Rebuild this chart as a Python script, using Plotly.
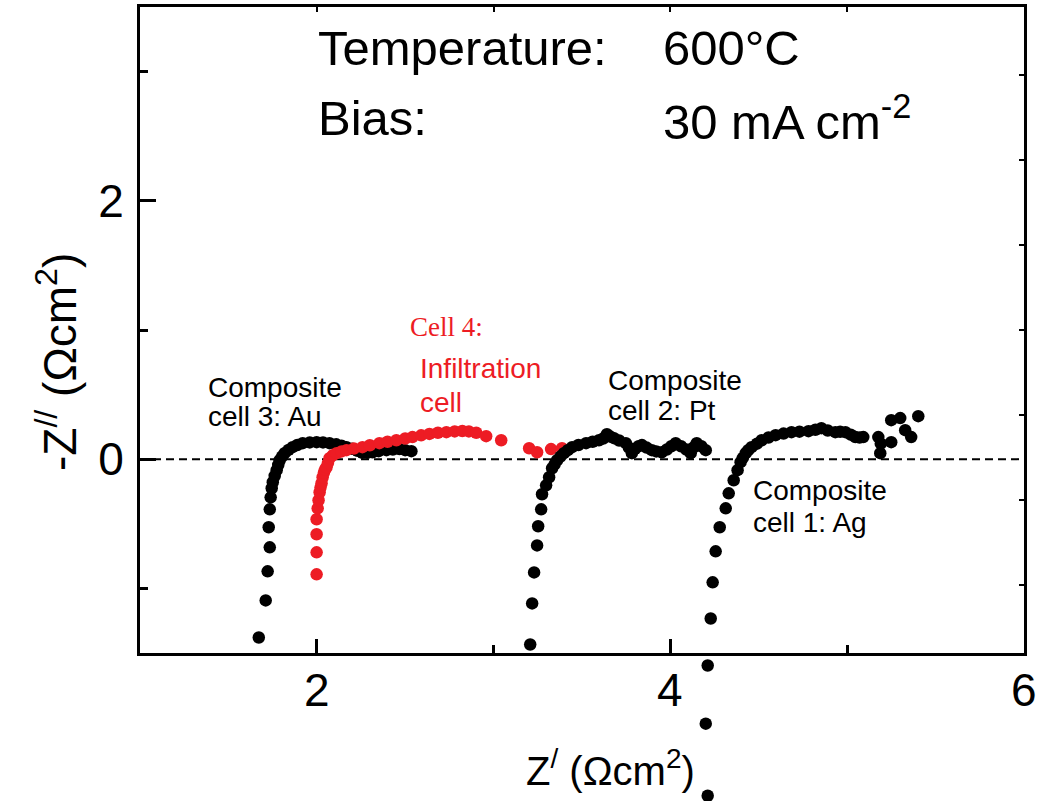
import plotly.graph_objects as go

# Nyquist data, Z' and -Z'' in Ohm cm^2
au_x = [1.672, 1.711, 1.722, 1.734, 1.728, 1.734, 1.739, 1.745, 1.751, 1.762, 1.773, 1.782,
        1.790, 1.803, 1.818, 1.840, 1.863, 1.890, 1.920, 1.960, 1.999, 2.035, 2.072, 2.110,
        2.140, 2.168, 2.200, 2.230, 2.258, 2.285, 2.315, 2.350, 2.394, 2.430, 2.467, 2.500, 2.535]
au_y = [-1.380, -1.093, -0.868, -0.682, -0.527, -0.388, -0.295, -0.225, -0.178, -0.130, -0.085, -0.045,
        -0.008, 0.020, 0.047, 0.072, 0.093, 0.110, 0.124, 0.130, 0.132, 0.130, 0.124, 0.115,
        0.105, 0.093, 0.080, 0.065, 0.050, 0.050, 0.054, 0.062, 0.070, 0.075, 0.078, 0.070, 0.062]

inf_x = [1.999, 1.999, 1.999, 1.999, 2.005, 2.010, 2.016, 2.021, 2.027, 2.033, 2.040, 2.047,
         2.055, 2.063, 2.072, 2.090, 2.112, 2.140, 2.168, 2.210, 2.258, 2.300, 2.354, 2.400,
         2.450, 2.500, 2.541, 2.590, 2.637, 2.685, 2.733, 2.780, 2.823, 2.860, 2.902, 2.958,
         3.043, 3.201, 3.246, 3.325, 3.387]
inf_y = [-0.891, -0.721, -0.581, -0.465, -0.380, -0.318, -0.256, -0.220, -0.186, -0.140, -0.105, -0.080,
         -0.062, -0.030, 0.008, 0.030, 0.047, 0.060, 0.070, 0.082, 0.093, 0.108, 0.124, 0.135,
         0.147, 0.160, 0.171, 0.185, 0.196, 0.205, 0.209, 0.215, 0.218, 0.215, 0.205, 0.178,
         0.147, 0.085, 0.054, 0.078, 0.085]

pt_x = [3.207, 3.218, 3.229, 3.246, 3.252, 3.269, 3.274, 3.297, 3.314, 3.331, 3.345, 3.359,
        3.378, 3.398, 3.420, 3.444, 3.480, 3.523, 3.560, 3.596, 3.620, 3.641, 3.660, 3.681,
        3.710, 3.748, 3.765, 3.782, 3.800, 3.820, 3.839, 3.865, 3.895, 3.920, 3.951, 3.980,
        4.005, 4.030, 4.060, 4.090, 4.115, 4.130, 4.149, 4.175, 4.200]
pt_y = [-1.434, -1.116, -0.876, -0.667, -0.519, -0.388, -0.271, -0.202, -0.140, -0.070, -0.040, -0.008,
        0.020, 0.047, 0.070, 0.093, 0.110, 0.124, 0.135, 0.147, 0.160, 0.194, 0.175, 0.163,
        0.145, 0.124, 0.090, 0.047, 0.080, 0.100, 0.109, 0.090, 0.070, 0.060, 0.054, 0.075,
        0.100, 0.124, 0.100, 0.075, 0.047, 0.090, 0.124, 0.100, 0.070]

ag_x = [4.211, 4.200, 4.211, 4.228, 4.239, 4.256, 4.279, 4.313, 4.330, 4.358, 4.380, 4.397,
        4.410, 4.426, 4.440, 4.459, 4.490, 4.516, 4.555, 4.595, 4.640, 4.685, 4.730, 4.781,
        4.820, 4.854, 4.890, 4.933, 4.960, 4.990, 5.020, 5.046, 5.070, 5.091, 5.176, 5.187,
        5.190, 5.249, 5.249, 5.300, 5.328, 5.362, 5.402]
ag_y = [-2.605, -2.047, -1.597, -1.233, -0.953, -0.713, -0.527, -0.380, -0.264, -0.163, -0.085, -0.023,
        0.010, 0.047, 0.070, 0.093, 0.120, 0.147, 0.168, 0.186, 0.198, 0.209, 0.213, 0.217,
        0.228, 0.240, 0.222, 0.209, 0.212, 0.209, 0.190, 0.171, 0.168, 0.171, 0.171, 0.047,
        0.120, 0.132, 0.302, 0.318, 0.225, 0.171, 0.333]

# axis ticks
x_major = [2, 4, 6]
x_minor = [3, 5]
y_major = [0, 2]
y_minor = [-1, 1, 3]
top_ticks = [2, 3, 4, 5]
right_ticks = [-0.977, -0.318, 0.341, 1.0, 1.659, 2.318, 2.977]

X_RANGE = [1, 6]
Y_RANGE = [-1.5, 3.5]

BLACK = "#000000"
RED = "#ED1C24"
SANS = "Arial, Liberation Sans, sans-serif"
SERIF = "Times New Roman, Liberation Serif, serif"

# page geometry (px)
W, H = 1045, 801
ML, MR, MT, MB = 140, 21, 7, 0
FRAME_BOTTOM = 653                      # pixel row of the lower frame edge
plot_h = H - MT - MB
y_dom0 = (H - MB - FRAME_BOTTOM) / plot_h
# full-height overlay axis with the same scale, so the Ag tail can run below the frame
y3_low = Y_RANGE[1] - (Y_RANGE[1] - Y_RANGE[0]) / (1 - y_dom0)


def px_x(px):
    return X_RANGE[0] + (px - ML) * (X_RANGE[1] - X_RANGE[0]) / (W - ML - MR)


def px_y(py):
    return Y_RANGE[1] - (py - MT) * (Y_RANGE[1] - Y_RANGE[0]) / (FRAME_BOTTOM - MT)


def paper_x(px):
    return (px - ML) / (W - ML - MR)


def paper_y(py):
    return (H - MB - py) / plot_h


fig = go.Figure()


def add_series(x, y, color, name, xa="x", ya="y"):
    fig.add_trace(go.Scatter(
        x=x, y=y, mode="markers", name=name, cliponaxis=False, xaxis=xa, yaxis=ya,
        marker=dict(size=12.5, color=color, line=dict(width=0)),
        showlegend=False,
    ))


add_series(au_x, au_y, BLACK, "Composite cell 3: Au")
add_series(inf_x, inf_y, RED, "Cell 4: Infiltration cell")
add_series(pt_x, pt_y, BLACK, "Composite cell 2: Pt")
# empty trace to bring up the mirrored frame axes
fig.add_trace(go.Scatter(x=[], y=[], xaxis="x2", yaxis="y2", showlegend=False))
add_series(ag_x, ag_y, BLACK, "Composite cell 1: Ag", xa="x3", ya="y3")

# Zero line
fig.add_shape(type="line", xref="x domain", yref="y", x0=0, x1=1, y0=0, y1=0,
              line=dict(color=BLACK, width=2, dash="8px,5px"), layer="below")

axis_common = dict(showgrid=False, zeroline=False, linecolor=BLACK, linewidth=3,
                   ticks="inside", tickcolor=BLACK, tickwidth=2.5)
hidden = dict(visible=False, showgrid=False, zeroline=False, fixedrange=True)

fig.update_layout(
    width=W, height=H,
    margin=dict(l=ML, r=MR, t=MT, b=MB),
    paper_bgcolor="white", plot_bgcolor="rgba(0,0,0,0)",
    xaxis=dict(range=X_RANGE, tickvals=x_major, ticklen=14, mirror=True, showticklabels=False,
               minor=dict(tickvals=x_minor, ticklen=8, ticks="inside", tickcolor=BLACK, tickwidth=2.5),
               anchor="y", **axis_common),
    yaxis=dict(range=Y_RANGE, domain=[y_dom0, 1], tickvals=y_major, ticklen=16, mirror=True,
               minor=dict(tickvals=y_minor, ticklen=8, ticks="inside", tickcolor=BLACK, tickwidth=2.5),
               ticklabelstandoff=4, tickfont=dict(family=SANS, size=46, color=BLACK),
               **axis_common),
    xaxis2=dict(range=X_RANGE, overlaying="x", side="top", tickvals=top_ticks, ticks="inside",
                ticklen=5, tickwidth=2, tickcolor=BLACK, showticklabels=False,
                showgrid=False, zeroline=False, showline=False),
    yaxis2=dict(range=Y_RANGE, overlaying="y", side="right", tickvals=right_ticks, ticks="inside",
                ticklen=5, tickwidth=2, tickcolor=BLACK, showticklabels=False,
                showgrid=False, zeroline=False, showline=False),
    xaxis3=dict(range=X_RANGE, anchor="y3", **hidden),
    yaxis3=dict(range=[y3_low, Y_RANGE[1]], domain=[0, 1], anchor="x3", **hidden),
)

annotations = []

# x tick labels
for v in x_major:
    annotations.append(dict(text=str(v), xref="x", yref="paper", x=v, y=paper_y(690),
                            xanchor="center", yanchor="middle",
                            font=dict(family=SANS, size=46, color=BLACK)))

# axis titles
annotations += [
    dict(text="Z<sup>/</sup> (Ωcm<sup>2</sup>)", xref="paper", yref="paper",
         x=paper_x(610), y=paper_y(768), xanchor="center", yanchor="middle",
         font=dict(family=SANS, size=40, color=BLACK)),
    dict(text="-Z<sup>//</sup> (Ωcm<sup>2</sup>)", xref="paper", yref="paper",
         x=paper_x(57), y=paper_y(362), xanchor="center", yanchor="middle",
         textangle=-90, font=dict(family=SANS, size=46, color=BLACK)),
]


def label(text, px, py, size, color=BLACK, family=SANS):
    annotations.append(dict(text=text, xref="x", yref="y", x=px_x(px), y=px_y(py),
                            xanchor="left", yanchor="middle",
                            font=dict(family=family, size=size, color=color)))


# test conditions
label("Temperature:", 316, 48, 49)
label("600°C", 661, 48, 49)
label("Bias:", 316, 118, 49)
label("30 mA cm<sup>-2</sup>", 661, 118, 49)

# cell labels
label("Composite", 206, 387, 28)
label("cell 3: Au", 206, 416, 28)
label("Cell 4:", 408, 327, 27, RED, SERIF)
label("Infiltration", 418, 368, 28, RED)
label("cell", 418, 402, 28, RED)
label("Composite", 606, 380, 28)
label("cell 2: Pt", 606, 410, 28)
label("Composite", 751, 490, 28)
label("cell 1: Ag", 751, 522, 28)

for a in annotations:
    a["showarrow"] = False
    a["align"] = "left"
    fig.add_annotation(**a)

fig.write_html("out.html")
